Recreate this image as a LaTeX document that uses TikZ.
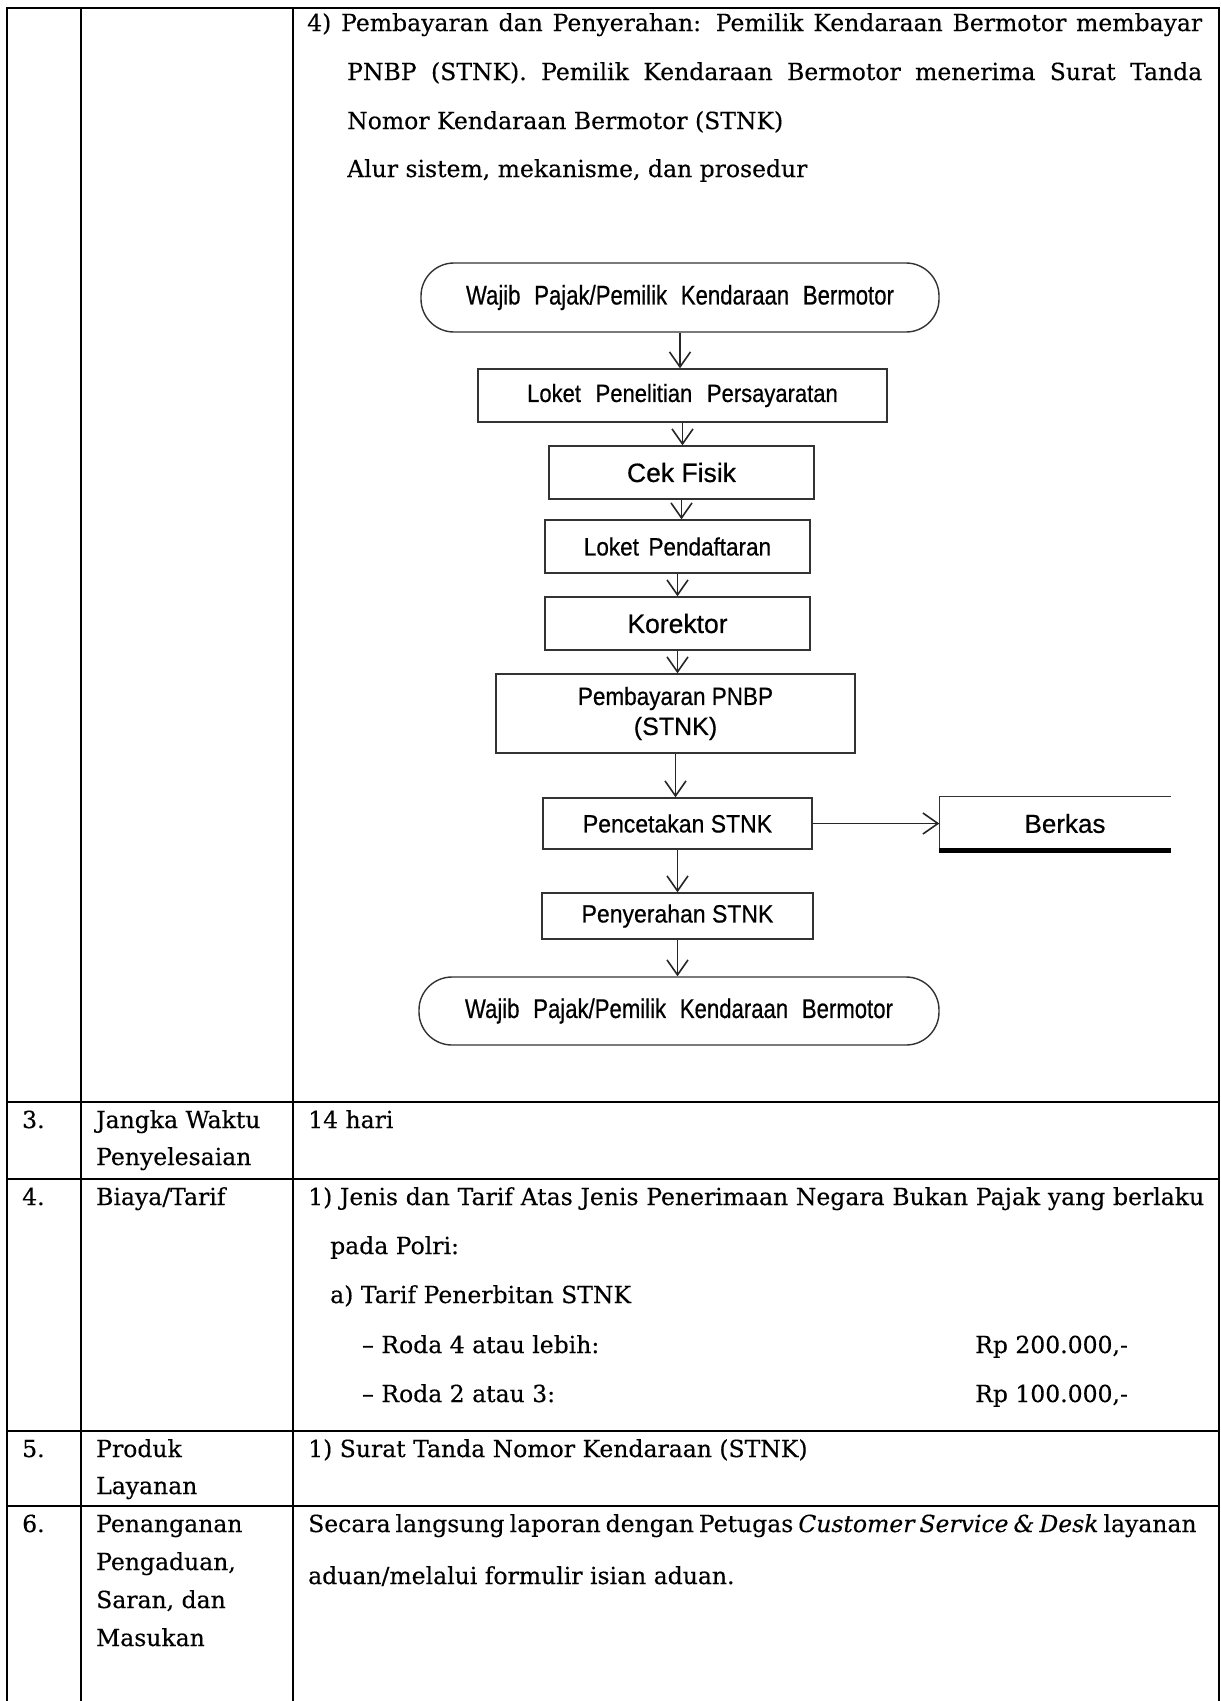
\documentclass[tikz,border=0pt]{standalone}
\usepackage{fontspec}
\setmainfont[FakeBold=0.3]{DejaVu Serif}
\newfontfamily\flowfont[FakeBold=0.6]{Liberation Sans}
\usetikzlibrary{arrows.meta}
% flowchart label: horizontally narrowed text, words spread to a set width
\newcommand\narrowline[3]{\scalebox{#1}[1]{\makebox[#2][s]{#3}}}
\begin{document}
\begin{tikzpicture}[x=1pt,y=-1pt,
  rule/.style={line width=2.6pt, draw=black},
  txt/.style={anchor=base west, inner sep=0pt, font=\fontsize{23.5}{28}\selectfont},
  box/.style={draw=black!80, line width=1.4pt, inner sep=0pt, align=center,
              font=\flowfont\fontsize{25}{30}\selectfont},
  term/.style={box, rounded corners=33pt},
  arr/.style={draw=black!85, line width=1.6pt, -{Straight Barb[length=15pt,width=21pt]}},
]
\fill[white] (0,0) rectangle (1221,1701);
\useasboundingbox (0,0) rectangle (1221,1701);

% table frame and column rules
\draw[rule] (7,1701) -- (7,8) -- (1219,8) -- (1219,1701);
\foreach \x in {81,293} \draw[rule] (\x,8) -- (\x,1701);
\foreach \y in {1102,1179,1431,1506} \draw[rule] (7,\y) -- (1219,\y);

% row text: step 4 of procedure
\node[txt] (p1) at (307,31) {\makebox[895pt][s]{4) Pembayaran dan Penyerahan: Pemilik Kendaraan Bermotor membayar}};
\node[txt] (p2) at (347,80) {\makebox[855pt][s]{PNBP (STNK). Pemilik Kendaraan Bermotor menerima Surat Tanda}};
\node[txt] (p3) at (347,129) {Nomor Kendaraan Bermotor (STNK)};
\node[txt] (p4) at (347,177) {Alur sistem, mekanisme, dan prosedur};

% flowchart
\node[term, minimum width=518pt, minimum height=69pt] (start) at (680,297.5)
  {\fontsize{27}{32}\selectfont\narrowline{0.82}{522pt}{Wajib Pajak/Pemilik Kendaraan Bermotor}};
\node[box, minimum width=409pt, minimum height=53pt] (lpp) at (682.5,395.5)
  {\narrowline{0.88}{353pt}{Loket Penelitian Persayaratan}};
\node[box, minimum width=265pt, minimum height=53pt] (cek) at (681.5,472.5)
  {\fontsize{26.5}{30}\selectfont Cek Fisik};
\node[box, minimum width=265pt, minimum height=53pt] (daftar) at (677.5,546.5)
  {\narrowline{0.9}{208pt}{Loket Pendaftaran}};
\node[box, minimum width=265pt, minimum height=53pt] (koreksi) at (677.5,623.5)
  {\fontsize{26.5}{30}\selectfont Korektor};
\node[box, minimum width=359pt, minimum height=79pt] (bayar) at (675.5,713.5)
  {\scalebox{0.9}[1]{Pembayaran PNBP}\\(STNK)};
\node[box, minimum width=269pt, minimum height=51pt] (cetak) at (677.5,823.5)
  {\scalebox{0.92}[1]{Pencetakan STNK}};
\node[box, draw=none, minimum width=230pt, minimum height=53pt] (berkas) at (1055,823.5)
  {\fontsize{26}{30}\selectfont\hspace*{20pt}Berkas};
\node[box, minimum width=271pt, minimum height=46pt] (serah) at (677.5,916)
  {\scalebox{0.92}[1]{Penyerahan STNK}};
\node[term, minimum width=520pt, minimum height=68pt] (finish) at (679,1011)
  {\fontsize{27}{32}\selectfont\narrowline{0.82}{522pt}{Wajib Pajak/Pemilik Kendaraan Bermotor}};

% archive symbol: open right side, heavy base
\draw[draw=black!80, line width=1.4pt] (berkas.north east) -- (berkas.north west) -- (berkas.south west);
\draw[black, line width=5.5pt] (berkas.south west) -- (berkas.south east);

\draw[arr] (start.south) -- (start.south |- lpp.north);
\draw[arr] (lpp.south) -- (lpp.south |- cek.north);
\draw[arr] (cek.south) -- (cek.south |- daftar.north);
\draw[arr] (daftar.south) -- (daftar.south |- koreksi.north);
\draw[arr] (koreksi.south) -- (koreksi.south |- bayar.north);
\draw[arr] (bayar.south) -- (bayar.south |- cetak.north);
\draw[arr] (cetak.east) -- (berkas.west);
\draw[arr] (cetak.south) -- (cetak.south |- serah.north);
\draw[arr] (serah.south) -- (serah.south |- finish.north);

% row 3
\node[txt] (n3) at (22,1128) {3.};
\node[txt] (k3a) at (96,1128) {Jangka Waktu};
\node[txt] (k3b) at (96,1165) {Penyelesaian};
\node[txt] (v3) at (308,1128) {14 hari};

% row 4
\node[txt] (n4) at (22,1205) {4.};
\node[txt] (k4) at (96,1205) {Biaya/Tarif};
\node[txt] (v4a) at (308,1205) {\makebox[896pt][s]{1) Jenis dan Tarif Atas Jenis Penerimaan Negara Bukan Pajak yang berlaku}};
\node[txt] (v4b) at (330,1254) {pada Polri:};
\node[txt] (v4c) at (330,1303) {a) Tarif Penerbitan STNK};
\node[txt] (v4d) at (362,1353) {– Roda 4 atau lebih:};
\node[txt] (v4e) at (975,1353) {Rp 200.000,-};
\node[txt] (v4f) at (362,1402) {– Roda 2 atau 3:};
\node[txt] (v4g) at (975,1402) {Rp 100.000,-};

% row 5
\node[txt] (n5) at (22,1457) {5.};
\node[txt] (k5a) at (96,1457) {Produk};
\node[txt] (k5b) at (96,1494) {Layanan};
\node[txt] (v5) at (308,1457) {1) Surat Tanda Nomor Kendaraan (STNK)};

% row 6
\node[txt] (n6) at (22,1532) {6.};
\node[txt] (k6a) at (96,1532) {Penanganan};
\node[txt] (k6b) at (96,1570) {Pengaduan,};
\node[txt] (k6c) at (96,1608) {Saran, dan};
\node[txt] (k6d) at (96,1646) {Masukan};
\node[txt] (v6a) at (308,1532) {\makebox[876pt][s]{Secara langsung laporan dengan Petugas \textit{Customer Service \& Desk} layanan}};
\node[txt] (v6b) at (308,1584) {aduan/melalui formulir isian aduan.};
\end{tikzpicture}
\end{document}
